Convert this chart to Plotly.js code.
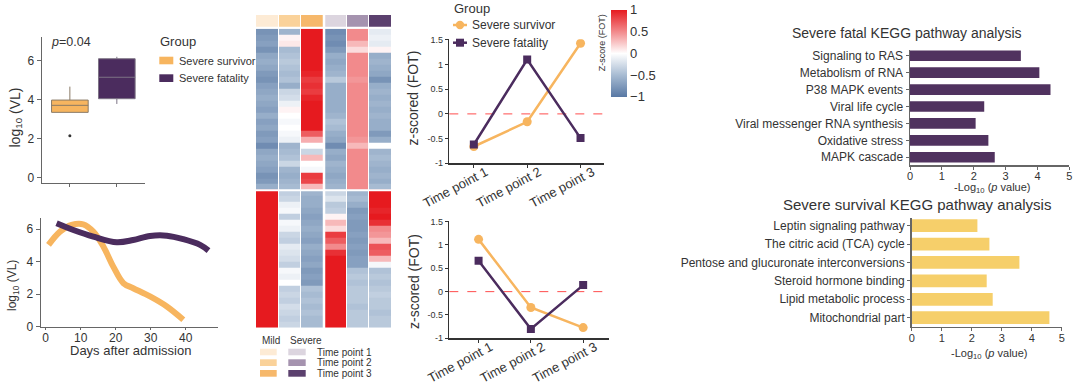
<!DOCTYPE html>
<html><head><meta charset="utf-8">
<script src="https://cdn.plot.ly/plotly-3.0.1.min.js"></script>
<style>html,body{margin:0;padding:0;background:#fff}#chart{width:1080px;height:392px}</style>
</head><body><div id="chart"></div>
<script>
// ---------- DATA ----------
// Box plot (log10 VL by group)
const boxGroups = ['Severe survivor', 'Severe fatality'];
const boxQ1 = [3.35, 4.05];
const boxMedian = [3.71, 5.15];
const boxQ3 = [3.98, 6.10];
const boxLow = [3.35, 3.78];
const boxHigh = [4.67, 6.20];
const boxOutlierY = [2.15];

// Viral load over days after admission
const survDays = [0.8, 4.1, 7.4, 10.7, 13.6, 16.5, 19.3, 22.2, 25.0, 29.8, 34.6, 39.3];
const survVL   = [5.03, 5.85, 6.26, 6.30, 5.85, 4.92, 3.69, 2.67, 2.36, 1.85, 1.23, 0.41];
const fatDays  = [3.1, 7.9, 13.6, 20.3, 25.0, 29.8, 34.6, 39.3, 44.1, 46.5];
const fatVL    = [6.36, 5.95, 5.54, 5.19, 5.33, 5.58, 5.60, 5.38, 5.03, 4.68];

// Heatmap columns (z-scored FOT), rows top to bottom
const mildTP1 = [-0.8,-0.75,-0.7,-0.8,-0.65,-0.6,-0.65,-0.75,-0.8,-0.7,-0.65,-0.6,-0.65,-0.7,-0.6,-0.7,-0.65,-0.75,-0.7,-0.85,-0.65,-0.6,-0.65,-0.7,-0.8,-0.75,-0.6,
  1,1,1,1,1,1,1,1,1,1,1,1,1,1,1,1,1,1,1,1,1,1,1];
const mildTP2 = [-0.55,0.05,0.1,-0.5,-0.45,-0.4,-0.45,-0.5,-0.45,-0.6,-0.3,-0.25,-0.1,0.05,0,-0.05,0,-0.05,-0.1,-0.55,-0.5,-0.45,-0.3,-0.55,-0.6,-0.55,-0.5,
  -0.35,-0.3,-0.1,-0.05,-0.35,-0.05,-0.1,-0.3,-0.35,-0.15,-0.2,-0.25,-0.35,-0.05,-0.1,0,-0.35,-0.3,-0.35,-0.25,-0.3,-0.35,-0.3];
const mildTP3 = [1,1,1,1,1,1,1,0.95,0.85,0.9,0.85,0.95,1,1,1,1,1,0.7,0.35,0,-0.3,0.3,0,-0.05,0.85,0.8,0.3,
  -0.55,-0.6,-0.6,-0.65,-0.7,-0.65,-0.6,-0.65,-0.7,-0.6,-0.65,-0.7,-0.65,-0.75,-0.7,-0.75,-0.45,-0.5,-0.45,-0.5,-0.45,-0.5,-0.5];
const sevTP1 = [-0.85,-0.8,-0.85,-0.75,-0.6,-0.65,-0.6,-0.55,-0.4,-0.6,-0.6,-0.6,-0.6,-0.6,-0.55,-0.45,-0.5,-0.6,-0.65,-0.85,-0.6,-0.65,-0.55,-0.6,-0.65,-0.6,-0.55,
  -0.3,-0.2,-0.4,-0.35,0.05,0.3,0.15,0.85,0.7,0.5,0.9,1,1,1,1,1,1,1,1,1,1,1,1];
const sevTP2 = [0.5,0.5,0.3,0.15,0.5,0.5,0.5,0.5,0.45,0.5,0.5,0.5,0.5,0.5,0.5,0.5,0.5,0.5,0.45,0.3,0.5,0.5,0.5,0.5,0.5,0.5,0.5,
  -0.55,-0.5,-0.6,-0.75,-0.7,-0.75,-0.75,-0.7,-0.75,-0.7,-0.75,-0.7,-0.7,-0.45,-0.4,-0.45,-0.4,-0.4,-0.4,-0.45,-0.4,-0.4,-0.4];
const sevTP3 = [-0.15,-0.1,-0.15,0.05,-0.6,-0.55,-0.6,-0.65,-0.8,-0.6,-0.55,-0.6,-0.55,-0.6,-0.55,-0.6,-0.6,-0.75,-0.6,0,-0.55,-0.5,-0.55,-0.6,-0.55,-0.6,-0.5,
  1,1,1,0.95,1,0.9,0.5,0.45,0.3,0.75,0.7,0.3,-0.05,-0.45,-0.4,-0.45,-0.4,-0.35,-0.4,-0.4,-0.45,-0.4,-0.4];
const upperClusterRows = 27;

// Time-point colours
const mildColors = ['#FDEBD5', '#FAD29A', '#F6B86B'];
const severeColors = ['#DCD5DF', '#A593AF', '#5B406E'];
const tpLabels = ['Time point 1', 'Time point 2', 'Time point 3'];

// z-scored FOT trajectories
const timePoints = ['Time point 1', 'Time point 2', 'Time point 3'];
const zTopSurv = [-0.66, -0.16, 1.43];
const zTopFat  = [-0.62, 1.10, -0.49];
const zBotSurv = [1.12, -0.34, -0.77];
const zBotFat  = [0.66, -0.80, 0.14];

// KEGG pathway bars
const fatalPathways = ['Signaling to RAS','Metabolism of RNA','P38 MAPK events','Viral life cycle','Viral messenger RNA synthesis','Oxidative stress','MAPK cascade'];
const fatalLogP = [3.48, 4.06, 4.41, 2.33, 2.06, 2.46, 2.66];
const survPathways = ['Leptin signaling pathway','The citric acid (TCA) cycle','Pentose and glucuronate interconversions','Steroid hormone binding','Lipid metabolic process','Mitochondrial part'];
const survLogP = [2.19, 2.59, 3.59, 2.50, 2.70, 4.59];

// ---------- STYLE ----------
const W = 1080, H = 392;
const px = v => v / W, py = v => 1 - v / H;
const FONT = 'Liberation Sans, Arial, sans-serif';
const ORANGE = '#F7B55F', PURPLE = '#4B2C5E';
const TXT = '#333333';

const heatZ = mildTP1.map((_, r) => [mildTP1[r], mildTP2[r], mildTP3[r], sevTP1[r], sevTP2[r], sevTP3[r]]);
const heatRows = heatZ.map((_, i) => i);
const heatX = [0, 1, 2, 3, 4, 5];

const traces = [
  // box plot
  {type:'box', x:[boxGroups[0]], q1:[boxQ1[0]], median:[boxMedian[0]], q3:[boxQ3[0]], lowerfence:[boxLow[0]], upperfence:[boxHigh[0]],
   fillcolor: ORANGE, line:{color:'#8a7a66', width:1}, whiskerwidth:0, width:0.78, boxpoints:false, xaxis:'x', yaxis:'y', showlegend:false, hoverinfo:'skip'},
  {type:'box', x:[boxGroups[1]], q1:[boxQ1[1]], median:[boxMedian[1]], q3:[boxQ3[1]], lowerfence:[boxLow[1]], upperfence:[boxHigh[1]],
   fillcolor: PURPLE, line:{color:'#7d7385', width:1}, whiskerwidth:0, width:0.78, boxpoints:false, xaxis:'x', yaxis:'y', showlegend:false, hoverinfo:'skip'},
  {type:'scatter', mode:'markers', x:[boxGroups[0]], y:boxOutlierY, marker:{size:3, color:'#333'}, xaxis:'x', yaxis:'y', showlegend:false, hoverinfo:'skip'},
  // VL curves
  {type:'scatter', mode:'lines', x:survDays, y:survVL, line:{color:ORANGE, width:6, shape:'spline', smoothing:1}, xaxis:'x2', yaxis:'y2', showlegend:false},
  {type:'scatter', mode:'lines', x:fatDays, y:fatVL, line:{color:PURPLE, width:6, shape:'spline', smoothing:1}, xaxis:'x2', yaxis:'y2', showlegend:false},
  // heatmap
  {type:'heatmap', z:heatZ, x:heatX, y:heatRows, zmin:-1, zmax:1, xgap:1,
   colorscale:[[0,'#5878A4'],[0.25,'#A7BBD2'],[0.5,'#FFFFFF'],[0.75,'#F28A8C'],[1,'#E61A1F']],
   xaxis:'x3', yaxis:'y3', hoverinfo:'skip',
   colorbar:{x:px(611), xanchor:'left', xref:'paper', y:py(53.3), yanchor:'middle', yref:'paper', len:87, lenmode:'pixels', thickness:16,
     xpad:0, ypad:0, outlinewidth:0, ticks:'', tickvals:[-1,-0.5,0,0.5,1], ticktext:['\u22121','\u22120.5','0','0.5','1'],
     tickfont:{size:13, color:TXT, family:FONT}}},
  // column annotation bar
  {type:'heatmap', z:[[0,1,2,3,4,5]], x:heatX, y:[0], zmin:0, zmax:5, xgap:1, showscale:false,
   colorscale:[[0,mildColors[0]],[0.2,mildColors[1]],[0.4,mildColors[2]],[0.6,severeColors[0]],[0.8,severeColors[1]],[1,severeColors[2]]],
   xaxis:'x3', yaxis:'y4', hoverinfo:'skip'},
  // z-scored top
  {type:'scatter', mode:'lines+markers', x:timePoints, y:zTopSurv, line:{color:ORANGE, width:2.5}, marker:{symbol:'circle', size:9, color:ORANGE}, xaxis:'x5', yaxis:'y5', showlegend:false},
  {type:'scatter', mode:'lines+markers', x:timePoints, y:zTopFat, line:{color:PURPLE, width:2.5}, marker:{symbol:'square', size:8, color:PURPLE}, xaxis:'x5', yaxis:'y5', showlegend:false},
  // z-scored bottom
  {type:'scatter', mode:'lines+markers', x:timePoints, y:zBotSurv, line:{color:ORANGE, width:2.5}, marker:{symbol:'circle', size:9, color:ORANGE}, xaxis:'x6', yaxis:'y6', showlegend:false},
  {type:'scatter', mode:'lines+markers', x:timePoints, y:zBotFat, line:{color:PURPLE, width:2.5}, marker:{symbol:'square', size:8, color:PURPLE}, xaxis:'x6', yaxis:'y6', showlegend:false},
  // KEGG bars
  {type:'bar', orientation:'h', y:fatalPathways, x:fatalLogP, width:0.63, marker:{color:'#50325F'}, xaxis:'x7', yaxis:'y7', showlegend:false, hoverinfo:'skip'},
  {type:'bar', orientation:'h', y:survPathways, x:survLogP, width:0.69, marker:{color:'#F6CF6A'}, xaxis:'x8', yaxis:'y8', showlegend:false, hoverinfo:'skip'}
];

const baseAx = {showgrid:false, zeroline:false, showline:true, ticks:'outside', fixedrange:true,
  tickfont:{family:FONT, size:12, color:TXT}};
const A = (o) => Object.assign({}, baseAx, o);

const layout = {
  width:W, height:H, autosize:false, margin:{l:0,r:0,t:0,b:0}, paper_bgcolor:'#fff', plot_bgcolor:'rgba(0,0,0,0)',
  font:{family:FONT, color:TXT}, showlegend:false,
  // box
  xaxis: A({domain:[px(41.7), px(145)], anchor:'y', type:'category', categoryarray:boxGroups, range:[-0.6,1.6], showticklabels:false,
    linecolor:'#666', linewidth:1, ticklen:3, tickcolor:'#666'}),
  yaxis: A({domain:[py(183.3), py(37.3)], anchor:'x', range:[-0.29,7.2], tickvals:[0,2,4,6], linecolor:'#666', linewidth:1, ticklen:4, tickcolor:'#666'}),
  // VL curves
  xaxis2: A({domain:[px(40.7), px(218.3)], anchor:'y2', range:[-1.43,49.3], tickvals:[0,10,20,30,40], linecolor:'#666', linewidth:1, ticklen:2, tickcolor:'#666',
    ticklabelstandoff:-3}),
  yaxis2: A({domain:[py(327.3), py(218.3)], anchor:'x2', range:[-0.05,6.67], tickvals:[0,2,4,6], linecolor:'#666', linewidth:1, ticklen:4, tickcolor:'#666'}),
  // heatmap
  xaxis3: {domain:[px(256), px(392)], anchor:'y3', range:[-0.5,5.5], visible:false, fixedrange:true},
  yaxis3: {domain:[py(327.7), py(28.7)], anchor:'x3', range:[heatRows.length-0.5,-0.5], visible:false, fixedrange:true},
  yaxis4: {domain:[py(26.7), py(15)], anchor:'x3', range:[-0.5,0.5], visible:false, fixedrange:true},
  // z top
  xaxis5: A({domain:[px(449.3), px(604)], anchor:'y5', type:'category', range:[-0.46,2.44], tickangle:-28,
    linecolor:'#333', linewidth:1.5, ticklen:3, tickcolor:'#333', tickfont:{family:FONT, size:13, color:TXT},
    ticklabelstandoff:-8, ticklabelshift:12}),
  yaxis5: A({domain:[py(163.3), py(39.3)], anchor:'x5', range:[-1,1.51], tickvals:[-1,-0.5,0,0.5,1,1.5], ticktext:['-1','-0.5','0','0.5','1','1.5'],
    linecolor:'#333', linewidth:1.5, ticklen:3, tickcolor:'#333', tickfont:{family:FONT, size:9, color:TXT}}),
  // z bottom
  xaxis6: A({domain:[px(449.3), px(609.3)], anchor:'y6', type:'category', range:[-0.56,2.5], tickangle:-28,
    linecolor:'#333', linewidth:1.5, ticklen:3, tickcolor:'#333', tickfont:{family:FONT, size:13, color:TXT},
    ticklabelstandoff:-8, ticklabelshift:12}),
  yaxis6: A({domain:[py(338.3), py(220.7)], anchor:'x6', range:[-1,1.52], tickvals:[-1,-0.5,0,0.5,1,1.5], ticktext:['-1','-0.5','0','0.5','1','1.5'],
    linecolor:'#333', linewidth:1.5, ticklen:3, tickcolor:'#333', tickfont:{family:FONT, size:9, color:TXT}}),
  // bars top
  xaxis7: A({domain:[px(910), px(1069.3)], anchor:'y7', range:[0,5], tickvals:[0,1,2,3,4,5], linecolor:'#666', linewidth:1.5, ticklen:3, tickcolor:'#666',
    tickfont:{family:FONT, size:11, color:TXT}, ticklabelstandoff:-3}),
  yaxis7: A({domain:[py(165), py(50)], anchor:'x7', type:'category', categoryarray:fatalPathways, range:[6.46,-0.34], linecolor:'#666', linewidth:1.5, ticklen:3, tickcolor:'#666'}),
  // bars bottom
  xaxis8: A({domain:[px(911.7), px(1061.7)], anchor:'y8', range:[0,5], tickvals:[0,1,2,3,4,5], linecolor:'#666', linewidth:1.5, ticklen:3, tickcolor:'#666',
    tickfont:{family:FONT, size:11, color:TXT}, ticklabelstandoff:-2}),
  yaxis8: A({domain:[py(326.7), py(218.3)], anchor:'x8', type:'category', categoryarray:survPathways, range:[5.49,-0.4], linecolor:'#666', linewidth:1.5, ticklen:3, tickcolor:'#666'}),
  shapes: [],
  annotations: []
};

const S = layout.shapes, N = layout.annotations;
function ann(text, x, y, o) {
  N.push(Object.assign({text, x:px(x), y:py(y), xref:'paper', yref:'paper', showarrow:false, xanchor:'left', yanchor:'middle',
    font:{family:FONT, size:12, color:TXT}}, o || {}));
}
function rect(x0, y0, x1, y1, color) {
  S.push({type:'rect', xref:'paper', yref:'paper', x0:px(x0), x1:px(x1), y0:py(y1), y1:py(y0), fillcolor:color, line:{width:0}});
}

// heatmap separators
S.push({type:'line', xref:'x3', yref:'paper', x0:2.5, x1:2.5, y0:py(328), y1:py(14.5), line:{color:'#fff', width:2.5}});
S.push({type:'line', xref:'x3', yref:'y3', x0:-0.5, x1:5.5, y0:upperClusterRows-0.5, y1:upperClusterRows-0.5, line:{color:'#fff', width:2}});
// dashed zero lines (drawn beneath the trajectories)
S.push({type:'line', layer:'below', xref:'x5 domain', yref:'y5', x0:0, x1:1, y0:0, y1:0, line:{color:'#FF4D4D', width:1, dash:'dash'}});
S.push({type:'line', layer:'below', xref:'x6 domain', yref:'y6', x0:0, x1:1, y0:0, y1:0, line:{color:'#FF4D4D', width:1, dash:'dash'}});

// --- box plot texts / legend
ann('<i>p</i>=0.04', 49, 42.3, {font:{family:FONT, size:12.5, color:TXT}});
ann('log<sub>10</sub> (VL)', 15, 117.5, {xanchor:'center', textangle:-90, font:{family:FONT, size:14, color:TXT}});
ann('Group', 158, 42, {font:{family:FONT, size:13, color:TXT}});
rect(159.3, 56.7, 173.3, 64.3, ORANGE);
rect(159.3, 74.3, 173.3, 82, PURPLE);
ann(boxGroups[0], 176.5, 60.7, {font:{family:FONT, size:11, color:TXT}});
ann(boxGroups[1], 176.5, 78.3, {font:{family:FONT, size:11, color:TXT}});

// --- VL curve texts
ann('Days after admission', 130, 350, {xanchor:'center', font:{family:FONT, size:13, color:TXT}});
ann('log<sub>10</sub> (VL)', 13, 286, {xanchor:'center', textangle:-90, font:{family:FONT, size:12, color:TXT}});

// --- heatmap legend
ann('Mild', 259.5, 340, {font:{family:FONT, size:10, color:TXT}});
ann('Severe', 288, 340, {font:{family:FONT, size:10, color:TXT}});
const swY = [[348.7,355.3],[359.3,366],[370,376.7]];
for (let i = 0; i < 3; i++) {
  rect(260, swY[i][0], 276.7, swY[i][1], mildColors[i]);
  rect(288.3, swY[i][0], 305.7, swY[i][1], severeColors[i]);
  ann(tpLabels[i], 315, (swY[i][0]+swY[i][1])/2, {font:{family:FONT, size:10, color:TXT}});
}

// --- colorbar title
ann('Z-score (FOT)', 601.7, 42.5, {xanchor:'center', textangle:-90, font:{family:FONT, size:9, color:TXT}});

// --- z-chart legend & titles
ann('Group', 451.7, 8.3, {font:{family:FONT, size:13, color:TXT}});
S.push({type:'line', xref:'paper', yref:'paper', x0:px(453), x1:px(467), y0:py(25), y1:py(25), line:{color:ORANGE, width:2.5}});
S.push({type:'circle', xref:'paper', yref:'paper', x0:px(455.8), x1:px(464.2), y0:py(29.2), y1:py(20.8), fillcolor:ORANGE, line:{width:0}});
S.push({type:'line', xref:'paper', yref:'paper', x0:px(453), x1:px(467), y0:py(42.7), y1:py(42.7), line:{color:PURPLE, width:2.5}});
rect(456, 38.7, 464, 46.7, PURPLE);
ann(boxGroups[0], 470, 25, {font:{family:FONT, size:12, color:TXT}});
ann(boxGroups[1], 470, 42.7, {font:{family:FONT, size:12, color:TXT}});
ann('z-scored (FOT)', 413.3, 98.3, {xanchor:'center', textangle:-90, font:{family:FONT, size:14, color:TXT}});
ann('z-scored (FOT)', 413.3, 281.7, {xanchor:'center', textangle:-90, font:{family:FONT, size:14, color:TXT}});

// --- bar titles
ann('Severe fatal KEGG pathway analysis', 906.7, 33.3, {xanchor:'center', font:{family:FONT, size:14, color:TXT}});
ann('-Log<sub>10</sub> (<i>p</i> value)', 991.7, 188, {xanchor:'center', font:{family:FONT, size:11, color:TXT}});
ann('Severe survival KEGG pathway analysis', 917.3, 204, {xanchor:'center', font:{family:FONT, size:15, color:TXT}});
ann('-Log<sub>10</sub> (<i>p</i> value)', 989, 354, {xanchor:'center', font:{family:FONT, size:11, color:TXT}});

Plotly.newPlot('chart', traces, layout, {staticPlot:true, displayModeBar:false});
</script>
</body></html>
